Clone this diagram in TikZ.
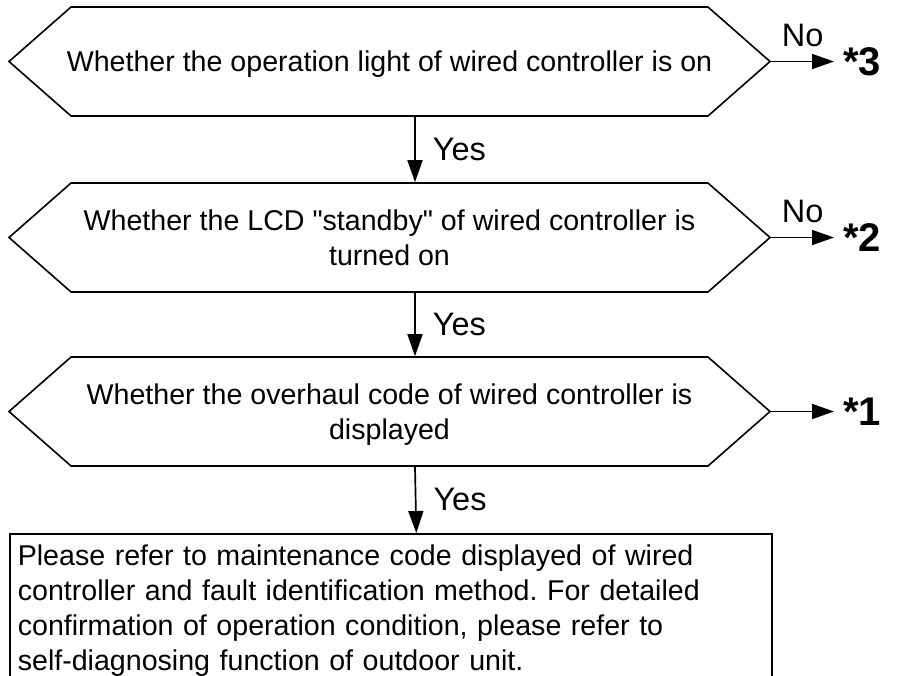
\documentclass[tikz,border=0pt]{standalone}
\usepackage{fontspec}
\setmainfont{Liberation Sans}[Ligatures=TeXOff]
\usetikzlibrary{shapes.symbols,arrows.meta}
\frenchspacing
\tikzset{
  ask/.style={draw, line width=1.6pt, shape=signal, signal to=west and east,
    signal pointer angle=82.6, minimum width=761pt, minimum height=109pt, inner sep=0pt},
  asktext/.style={align=center, inner sep=0pt, text depth=0pt, font=\fontsize{28.6}{35}\selectfont},
  go/.style={-{Triangle[length=22pt,width=15pt]}, line width=1.7pt},
  lbl/.style={inner sep=0pt, font=\fontsize{32.5}{39}\selectfont},
  goal/.style={anchor=west, inner xsep=9pt, inner ysep=0pt, font=\bfseries\fontsize{40}{44}\selectfont}
}
\begin{document}
\begin{tikzpicture}[x=1pt,y=-1pt]
\useasboundingbox (0,0) rectangle (897,675);
\clip (0,0) rectangle (897,675);
\node[ask, label={[asktext]center:Whether the operation light of wired controller is on}] (q1) at (389.5,61.5){};
\node[ask, label={[asktext]center:Whether the LCD "standby" of wired controller is\\turned on}] (q2) at (389.5,237.5){};
\node[ask, label={[asktext]center:Whether the overhaul code of wired controller is\\displayed}] (q3) at (389.5,411.5){};
\node[draw, line width=1.6pt, anchor=north west, text width=746pt, inner xsep=8pt, inner ysep=11pt,
  align=left, font=\fontsize{28.6}{35}\selectfont] (res) at (9,533)
  {Please refer to maintenance code displayed of wired\\
   controller and fault identification method. For detailed\\
   confirmation of operation condition, please refer to\\
   self-diagnosing function of outdoor unit.};
\node[goal] (s3) at (834,61.5){*3};
\node[goal] (s2) at (834,237.5){*2};
\node[goal] (s1) at (834,411.5){*1};
%
\draw[go] ([xshift=25.5pt]q1.south) -- node[lbl,right=17pt]{Yes} ([xshift=25.5pt]q2.north);
\draw[go] ([xshift=25.5pt]q2.south) -- node[lbl,right=17pt]{Yes} ([xshift=25.5pt]q3.north);
\draw[go] ([xshift=25.5pt]q3.south) -- node[lbl,right=17pt]{Yes} ([xshift=25.5pt]res.north);
\draw[go] (q1.east) -- node[lbl,above=14pt]{No} (s3.west);
\draw[go] (q2.east) -- node[lbl,above=14pt]{No} (s2.west);
\draw[go] (q3.east) -- (s1.west);

\end{tikzpicture}
\end{document}
